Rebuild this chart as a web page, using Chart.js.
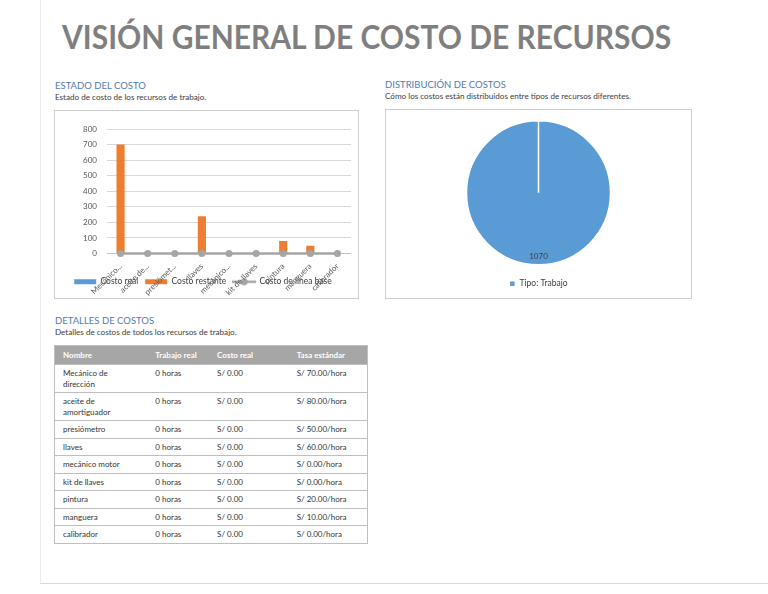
<!DOCTYPE html>
<html>
<head>
<meta charset="utf-8">
<script src="https://cdn.jsdelivr.net/npm/chart.js@4"></script>
<style>
  body { margin: 0; width: 768px; height: 594px; background: #fff; font-family: Lato, sans-serif; position: relative; overflow: hidden; }
  .frame { position: absolute; left: 40px; top: 0; width: 728px; height: 583px; border-left: 1px solid #ececec; border-bottom: 1px solid #d9d9d9; }
  h1 { position: absolute; left: 62px; top: 17px; margin: 0; font-size: 32px; font-weight: bold; color: #7f7f7f; white-space: nowrap; transform: scaleX(0.937); transform-origin: left top; }
  .head { position: absolute; margin: 0; font-size: 9.5px; color: #4f7cb1; white-space: nowrap; }
  .sub { position: absolute; margin: 0; font-size: 8.1px; color: #404040; white-space: nowrap; }
  .box { position: absolute; border: 1px solid #cfcfcf; }
  table { position: absolute; left: 54px; top: 345px; width: 314px; border-collapse: collapse; border: 1px solid #bfbfbf; font-size: 8px; color: #333; }
  th { background: #a6a6a6; color: #fff; font-weight: bold; text-align: left; height: 18px; padding: 0 0 0 8px; }
  td { vertical-align: top; padding: 3px 8px 3px 8px; line-height: 10.5px; border-top: 1px solid #bfbfbf; }
  td.n { padding-right: 22px; }
</style>
</head>
<body>
<div class="frame"></div>
<h1>VISIÓN GENERAL DE COSTO DE RECURSOS</h1>

<div class="head" style="left:55px;top:80px">ESTADO DEL COSTO</div>
<div class="sub" style="left:55px;top:92px">Estado de costo de los recursos de trabajo.</div>
<div class="box" style="left:54px;top:110px;width:303px;height:187px"><canvas id="bar" width="303" height="187"></canvas></div>

<div class="head" style="left:385px;top:79px">DISTRIBUCIÓN DE COSTOS</div>
<div class="sub" style="left:385px;top:91px">Cómo los costos están distribuidos entre tipos de recursos diferentes.</div>
<div class="box" style="left:385px;top:109px;width:305px;height:188px"><canvas id="pie" width="305" height="188"></canvas></div>

<div class="head" style="left:55px;top:315px">DETALLES DE COSTOS</div>
<div class="sub" style="left:55px;top:327px">Detalles de costos de todos los recursos de trabajo.</div>
<table id="tabla">
  <colgroup><col style="width:93px"><col style="width:62px"><col style="width:80px"><col style="width:79px"></colgroup>
  <thead><tr><th>Nombre</th><th>Trabajo real</th><th>Costo real</th><th>Tasa estándar</th></tr></thead>
  <tbody></tbody>
</table>

<script>
const recursos = ['Mecánico de dirección', 'aceite de amortiguador', 'presiómetro', 'llaves', 'mecánico motor', 'kit de llaves', 'pintura', 'manguera', 'calibrador'];
const etiquetasEje = ['Mecánico...', 'aceite de...', 'presiómet...', 'llaves', 'mecánico...', 'kit de llaves', 'pintura', 'manguera', 'calibrador'];
const costoReal = [0, 0, 0, 0, 0, 0, 0, 0, 0];
const costoRestante = [700, 0, 0, 240, 0, 0, 80, 50, 0];
const costoLineaBase = [0, 0, 0, 0, 0, 0, 0, 0, 0];

const tipos = ['Tipo: Trabajo'];
const costoPorTipo = [1070];

const trabajoReal = ['0 horas', '0 horas', '0 horas', '0 horas', '0 horas', '0 horas', '0 horas', '0 horas', '0 horas'];
const costoRealTexto = ['S/ 0.00', 'S/ 0.00', 'S/ 0.00', 'S/ 0.00', 'S/ 0.00', 'S/ 0.00', 'S/ 0.00', 'S/ 0.00', 'S/ 0.00'];
const tasaEstandar = ['S/ 70.00/hora', 'S/ 80.00/hora', 'S/ 50.00/hora', 'S/ 60.00/hora', 'S/ 0.00/hora', 'S/ 0.00/hora', 'S/ 20.00/hora', 'S/ 10.00/hora', 'S/ 0.00/hora'];

const azul = '#5b9bd5', naranja = '#ed7d31', gris = '#a5a5a5';

// tabla de detalles
const tbody = document.querySelector('#tabla tbody');
recursos.forEach((r, i) => {
  const tr = document.createElement('tr');
  tr.innerHTML = '<td class="n">' + r + '</td><td>' + trabajoReal[i] + '</td><td>' + costoRealTexto[i] + '</td><td>' + tasaEstandar[i] + '</td>';
  tbody.appendChild(tr);
});

// marcador de leyenda: línea con punto
const marcaLinea = document.createElement('canvas');
marcaLinea.width = 24; marcaLinea.height = 8;
{
  const c = marcaLinea.getContext('2d');
  c.strokeStyle = gris; c.lineWidth = 2.5;
  c.beginPath(); c.moveTo(0, 4); c.lineTo(24, 4); c.stroke();
  c.fillStyle = gris;
  c.beginPath(); c.arc(12, 4, 3.5, 0, Math.PI * 2); c.fill();
}

Chart.defaults.font.family = 'Lato, sans-serif';
Chart.defaults.color = '#595959';
Chart.defaults.animation = false;

new Chart(document.getElementById('bar').getContext('2d'), {
  type: 'bar',
  data: {
    labels: etiquetasEje,
    datasets: [
      { label: 'Costo de línea base', type: 'line', data: costoLineaBase, borderColor: gris, backgroundColor: gris,
        borderWidth: 2.5, pointRadius: 3.5, pointBackgroundColor: gris, pointBorderWidth: 0, clip: false, order: 0 },
      { label: 'Costo real', data: costoReal, backgroundColor: azul, order: 1 },
      { label: 'Costo restante', data: costoRestante, backgroundColor: naranja, order: 1 }
    ]
  },
  options: {
    responsive: false,
    layout: { padding: { top: 18, right: 7, bottom: 2, left: 0 } },
    datasets: { bar: { barPercentage: 0.3, categoryPercentage: 1 } },
    plugins: {
      tooltip: { enabled: false },
      legend: {
        position: 'bottom',
        labels: {
          font: { size: 8.5 }, color: '#404040', boxWidth: 22, boxHeight: 5, padding: 7,
          usePointStyle: true, pointStyleWidth: 22,
          generateLabels: chart => {
            const items = Chart.defaults.plugins.legend.labels.generateLabels(chart);
            items.forEach(it => { it.pointStyle = it.datasetIndex === 0 ? marcaLinea : 'rect'; });
            return items;
          },
          sort: (a, b) => (a.datasetIndex === 0) - (b.datasetIndex === 0)
        }
      }
    },
    scales: {
      x: {
        stacked: true,
        grid: { display: false },
        border: { display: false },
        ticks: { font: { size: 8 }, color: '#595959', minRotation: 45, maxRotation: 45, padding: 0 },
        // etiquetas montadas sobre la leyenda, como en el original
        afterFit: s => { s.height = 17; s._computeLabelArea = () => undefined; }
      },
      y: {
        stacked: true,
        min: 0, max: 800,
        border: { display: false },
        grid: { color: ctx => ctx.tick.value === 0 ? '#bfbfbf' : '#d9d9d9', drawTicks: false },
        ticks: { stepSize: 100, font: { size: 8 }, color: '#595959', padding: 10 },
        afterFit: s => { s.width = 52; }
      }
    }
  }
});

const etiquetasPorcion = {
  id: 'etiquetasPorcion',
  afterDatasetsDraw(chart) {
    const ctx = chart.ctx;
    chart.getDatasetMeta(0).data.forEach((arc, i) => {
      const p = arc.getProps(['x', 'y', 'startAngle', 'endAngle', 'outerRadius']);
      const a = (p.startAngle + p.endAngle) / 2;
      const r = p.outerRadius * 0.88;
      ctx.save();
      ctx.font = '8px Lato, sans-serif';
      ctx.fillStyle = '#404040';
      ctx.textAlign = 'center';
      ctx.textBaseline = 'middle';
      ctx.fillText(String(chart.data.datasets[0].data[i]), p.x + Math.cos(a) * r, p.y + Math.sin(a) * r);
      ctx.restore();
    });
  }
};

new Chart(document.getElementById('pie').getContext('2d'), {
  type: 'pie',
  data: {
    labels: tipos,
    datasets: [{ data: costoPorTipo, backgroundColor: azul, borderColor: '#ffffff', borderWidth: 1.5 }]
  },
  options: {
    responsive: false,
    radius: 72,
    layout: { padding: { top: 6, bottom: 0 } },
    plugins: {
      tooltip: { enabled: false },
      legend: {
        position: 'bottom',
        labels: { font: { size: 8.5 }, color: '#404040', boxWidth: 6, boxHeight: 6, padding: 9.9 }
      }
    }
  },
  plugins: [etiquetasPorcion]
});
</script>
</body>
</html>
